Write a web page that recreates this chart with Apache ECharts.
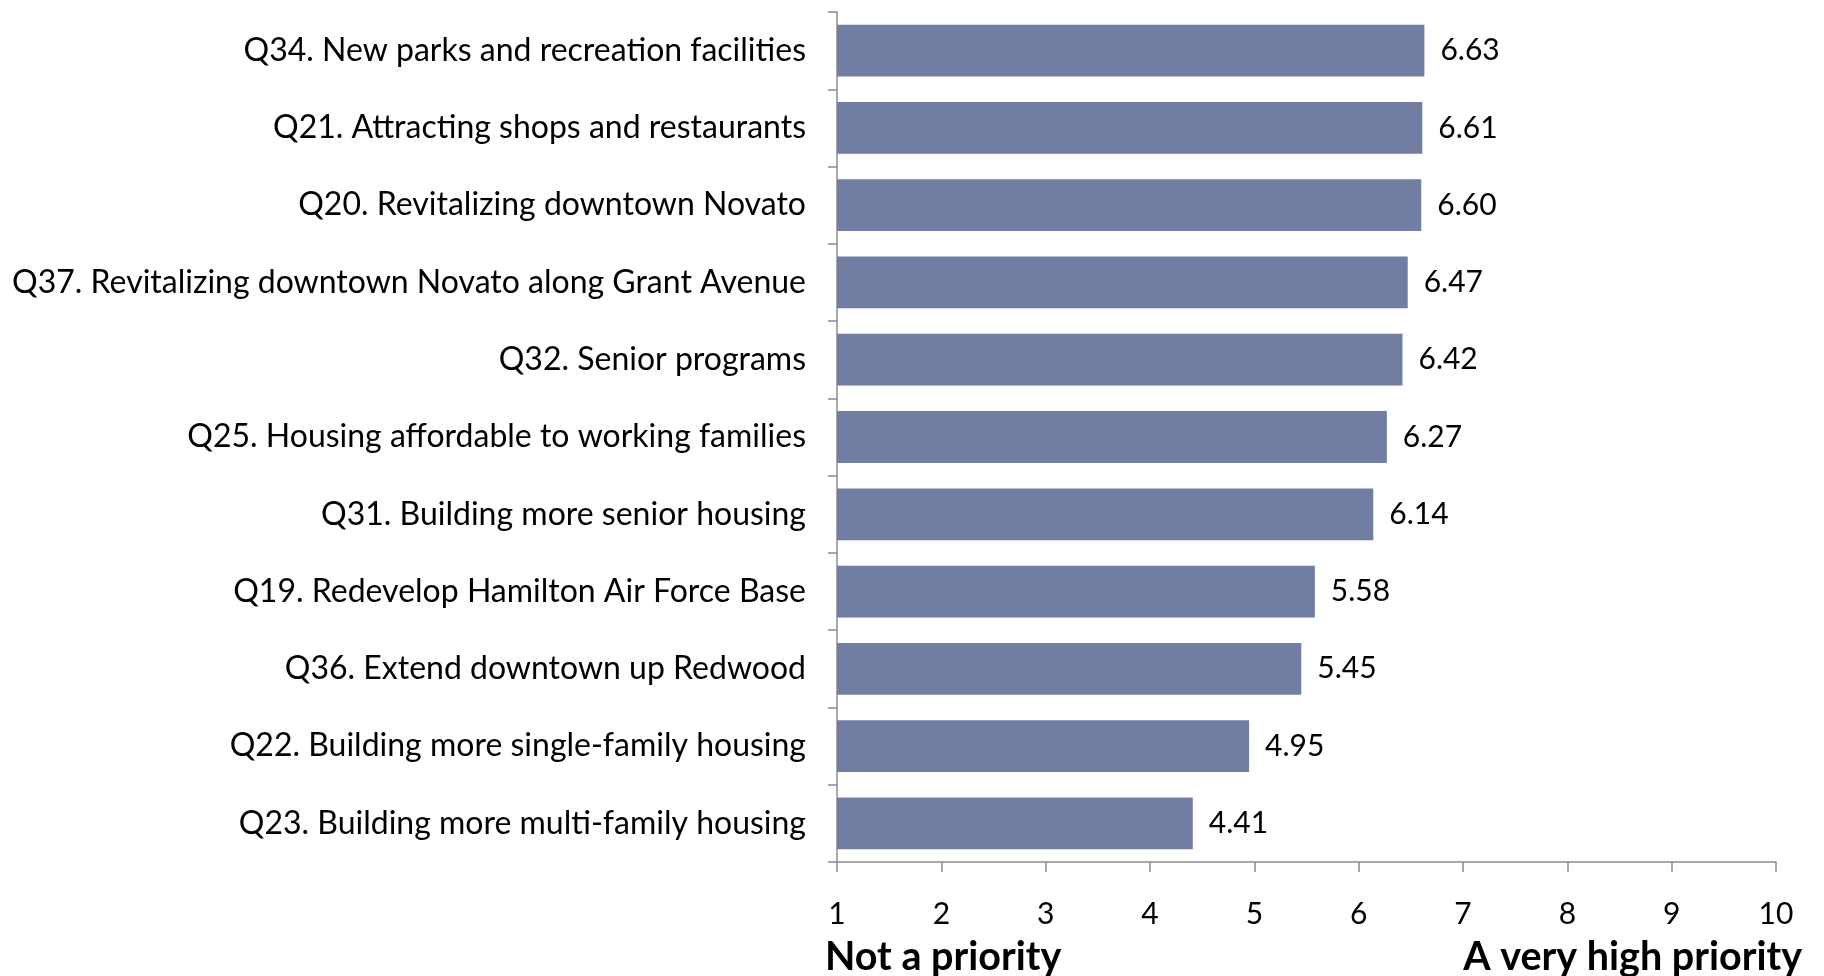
<!DOCTYPE html>
<html>
<head>
<meta charset="utf-8">
<script src="https://cdn.jsdelivr.net/npm/echarts@6/dist/echarts.min.js"></script>
<style>
html,body{margin:0;padding:0;background:#fff;}
#c{width:1824px;height:976px;}
</style>
</head>
<body>
<div id="c"></div>
<script>
const categories = [
  "Q34. New parks and recreation facilities",
  "Q21. Attracting shops and restaurants",
  "Q20. Revitalizing downtown Novato",
  "Q37. Revitalizing downtown Novato along Grant Avenue",
  "Q32. Senior programs",
  "Q25. Housing affordable to working families",
  "Q31. Building more senior housing",
  "Q19. Redevelop Hamilton Air Force Base",
  "Q36. Extend downtown up Redwood",
  "Q22. Building more single-family housing",
  "Q23. Building more multi-family housing"
];
const values = [6.63, 6.61, 6.60, 6.47, 6.42, 6.27, 6.14, 5.58, 5.45, 4.95, 4.41];
const axisMin = 1, axisMax = 10, axisStep = 1;
const leftAxisTitle = "Not a priority";
const rightAxisTitle = "A very high priority";

const FONT = "Lato";
const chart = echarts.init(document.getElementById('c'), null, {renderer: 'canvas'});
chart.setOption({
  animation: false,
  grid: {left: 837, right: 48, top: 12, bottom: 114, containLabel: false},
  xAxis: {
    type: 'value', min: axisMin, max: axisMax, interval: axisStep,
    axisLine: {show: true, lineStyle: {color: '#8c8c8c', width: 1.5}},
    axisTick: {show: true, length: 10, lineStyle: {color: '#8c8c8c', width: 1.5}},
    splitLine: {show: false},
    axisLabel: {color: '#000', fontFamily: FONT, fontSize: 30, margin: 37}
  },
  yAxis: {
    type: 'category', data: categories, inverse: true,
    axisLine: {show: true, lineStyle: {color: '#8c8c8c', width: 1.5}},
    axisTick: {show: true, length: 9, lineStyle: {color: '#8c8c8c', width: 1.5}},
    axisLabel: {color: '#000', fontFamily: FONT, fontSize: 32, margin: 31}
  },
  series: [{
    type: 'bar', data: values, barCategoryGap: '33%',
    itemStyle: {color: '#727da3'},
    label: {show: true, position: 'right', distance: 16, color: '#000',
      fontFamily: FONT, fontSize: 30, formatter: p => p.value.toFixed(2)}
  }],
  graphic: [
    {type: 'text', x: 825, y: 957,
      style: {text: leftAxisTitle, fill: '#000', font: 'bold 39.5px ' + FONT,
        align: 'left', verticalAlign: 'middle'}},
    {type: 'text', x: 1802, y: 957,
      style: {text: rightAxisTitle, fill: '#000', font: 'bold 39.5px ' + FONT,
        align: 'right', verticalAlign: 'middle'}}
  ]
});
</script>
</body>
</html>
